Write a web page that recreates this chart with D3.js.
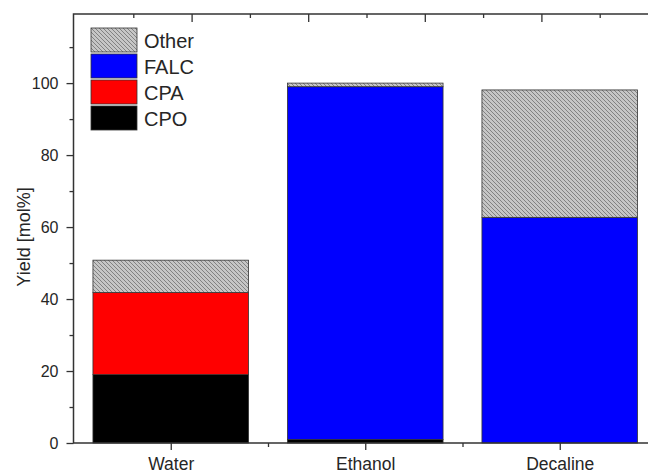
<!DOCTYPE html>
<html>
<head>
<meta charset="utf-8">
<script src="https://cdn.jsdelivr.net/npm/d3@7"></script>
<style>
    body { margin: 0; background: #fff; }
    text { font-family: Arial, 'Liberation Sans', sans-serif; fill: #262626; }
</style>
</head>
<body>
<svg id="chart" width="648" height="474"></svg>
<script>
(function () {
    'use strict';

    // data (mol% yields, stacked from the bottom)
    var solvents = ['Water', 'Ethanol', 'Decaline'],
        cpo = [19.0, 1.0, 0.0],
        cpa = [22.8, 0.0, 0.0],
        falc = [0.0, 98.0, 62.7],
        other = [9.0, 1.0, 35.4],
        yTicks = [0, 20, 40, 60, 80, 100];

    var series = [
        { key: 'CPO', values: cpo, fill: '#000000' },
        { key: 'CPA', values: cpa, fill: '#ff0000' },
        { key: 'FALC', values: falc, fill: '#0000ff' },
        { key: 'Other', values: other, fill: 'url(#hatch)' },
    ];

    var svg = d3.select('#chart'),
        left = 73.5, right = 657, top = 14, bottom = 443;

    // scales
    var x = d3.scaleLinear().domain([0.5, 3.5]).range([left, right]),
        xTop = d3.scaleLinear().domain([0, 5]).range([75, 658]),
        y = d3.scaleLinear().domain([0, 119.2]).range([bottom, top]);

    var defs = svg.append('defs');
    var pat = defs.append('pattern')
        .attr('id', 'hatch')
        .attr('patternUnits', 'userSpaceOnUse')
        .attr('width', 4).attr('height', 4);
    pat.append('rect').attr('width', 4).attr('height', 4).attr('fill', '#c6c6c6');
    pat.append('path')
        .attr('d', 'M-1,-1 L5,5 M-1,3 L1,5 M3,-1 L5,1')
        .attr('stroke', '#7a7a7a').attr('stroke-width', 0.9);

    // stacked bars
    var barW = 0.8;
    solvents.forEach(function (s, i) {
        var base = 0;
        series.forEach(function (ser) {
            var v = ser.values[i];
            if (v > 0) {
                svg.append('rect')
                    .attr('x', x(i + 1 - barW / 2))
                    .attr('width', x(i + 1 + barW / 2) - x(i + 1 - barW / 2))
                    .attr('y', y(base + v))
                    .attr('height', y(base) - y(base + v))
                    .attr('fill', ser.fill)
                    .attr('stroke', '#333')
                    .attr('stroke-width', 0.8);
            }
            base += v;
        });
    });

    // axes
    var yAxis = d3.axisLeft(y).tickValues(yTicks).tickSize(7).tickPadding(8),
        yMinor = d3.axisLeft(y).tickValues(d3.range(10, 120, 20)).tickSize(4).tickFormat(''),
        xAxis = d3.axisBottom(x).tickValues([1, 2, 3])
            .tickFormat(function (d) { return solvents[d - 1]; })
            .tickSize(7).tickPadding(8),
        xMinor = d3.axisBottom(x).tickValues([1.5, 2.5]).tickSize(4).tickFormat(''),
        topMajor = d3.axisBottom(xTop).tickValues([1, 2, 3, 4]).tickSize(8).tickFormat(''),
        topMinor = d3.axisBottom(xTop).tickValues([0.5, 1.5, 2.5, 3.5, 4.5]).tickSize(4).tickFormat('');

    function style(g) {
        g.select('.domain').remove();
        g.selectAll('line').attr('stroke', '#333').attr('stroke-width', 1.3);
        g.selectAll('text').attr('fill', '#262626');
    }

    svg.append('g').attr('transform', 'translate(' + left + ',0)')
        .call(yAxis).call(style)
        .selectAll('text').style('font-size', '16px');
    svg.append('g').attr('transform', 'translate(' + left + ',0)')
        .call(yMinor).call(style);
    svg.append('g').attr('transform', 'translate(0,' + bottom + ')')
        .call(xAxis).call(style)
        .selectAll('text').style('font-size', '17.5px');
    svg.append('g').attr('transform', 'translate(0,' + bottom + ')')
        .call(xMinor).call(style);
    svg.append('g').attr('transform', 'translate(0,' + top + ')')
        .call(topMajor).call(style);
    svg.append('g').attr('transform', 'translate(0,' + top + ')')
        .call(topMinor).call(style);

    // frame lines (left, bottom, top)
    svg.append('path')
        .attr('d', 'M' + right + ',' + top + 'H' + left + 'V' + bottom + 'H' + right)
        .attr('fill', 'none')
        .attr('stroke', '#333')
        .attr('stroke-width', 1.5);

    svg.append('text')
        .attr('transform', 'translate(30,237) rotate(-90)')
        .attr('text-anchor', 'middle')
        .style('font-size', '18px')
        .text('Yield [mol%]');

    // legend (top to bottom)
    var legend = svg.append('g').attr('transform', 'translate(91,28)');
    series.slice().reverse().forEach(function (ser, i) {
        var g = legend.append('g').attr('transform', 'translate(0,' + i * 26 + ')');
        g.append('rect')
            .attr('width', 46).attr('height', 24)
            .attr('fill', ser.fill)
            .attr('stroke', '#333').attr('stroke-width', 0.8);
        g.append('text')
            .attr('x', 53).attr('y', 20)
            .style('font-size', '20px')
            .text(ser.key);
    });
}());
</script>
</body>
</html>
